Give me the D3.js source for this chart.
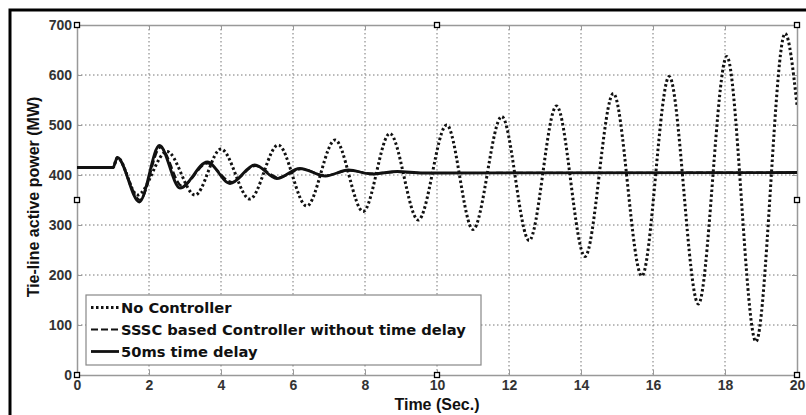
<!DOCTYPE html>
<html><head><meta charset="utf-8">
<script src="https://cdn.jsdelivr.net/npm/d3@7"></script>
<style>body{margin:0;background:#fff;} svg{display:block;}</style>
</head><body>
<svg id="c" width="806" height="415"></svg>
<script>
// ---- data ----
const xTicks = [0,2,4,6,8,10,12,14,16,18,20];
const yTicks = [0,100,200,300,400,500,600,700];
const seriesNames = ["No Controller","SSSC based Controller without time delay","50ms time delay"];

const noCtrlT = [0,1.0,1.12,1.68,2.5,3.28,4.0,4.8,5.59,6.38,7.17,7.95,8.69,9.48,10.27,11.0,11.8,12.56,13.32,14.11,14.9,15.69,16.45,17.26,18.05,18.86,19.67,20];
const noCtrlV = [415,415,435,360,447,360,452,352,460,338,470,327,483,310,500,291,517,269,538,237,563,198,597,142,637,67,683,540];

const ssscT = [0,1.0,1.12,1.75,2.32,2.92,3.62,4.3,4.95,5.6,6.25,6.9,7.55,8.2,8.9,9.6,20];
const ssscV = [415,415,433,350,455,378,423,386,418,395,412,399,409,403,406,404,405];

const delayT = [0,1.0,1.12,1.73,2.29,2.86,3.62,4.25,4.94,5.55,6.19,6.9,7.54,8.18,8.9,9.6,20];
const delayV = [415,415,435,346,459,374,426,383,420,393,413,398,410,402,407,404,405];

// ---- layout ----
const svg = d3.select("#c");
const L=77, R=797, T=25, B=375;
const x = d3.scaleLinear().domain([0,20]).range([L,R]);
const y = d3.scaleLinear().domain([0,700]).range([B,T]);
const AR = "Liberation Sans, Arial, sans-serif";
const DV = "DejaVu Sans, sans-serif";

// outer frame
svg.append("rect").attr("x",10).attr("y",10).attr("width",820).attr("height",430)
  .attr("fill","none").attr("stroke","#000").attr("stroke-width",3);

// grid
const g = svg.append("g");
g.selectAll(".gx").data(xTicks.slice(1,-1)).join("line")
  .attr("x1",d=>x(d)).attr("x2",d=>x(d)).attr("y1",T).attr("y2",B)
  .attr("stroke","#777").attr("stroke-width",1).attr("stroke-dasharray","1.5,2.5");
g.selectAll(".gy").data(yTicks.slice(1,-1)).join("line")
  .attr("y1",d=>y(d)).attr("y2",d=>y(d)).attr("x1",L).attr("x2",R)
  .attr("stroke","#777").attr("stroke-width",1).attr("stroke-dasharray","1.5,2.5");

// axes (MATLAB style box with inner ticks)
const tickFmt = d3.format("d");
const ax = svg.append("g").attr("transform",`translate(0,${B})`)
  .call(d3.axisBottom(x).tickValues(xTicks).tickFormat(tickFmt).tickSizeInner(-5).tickSizeOuter(0).tickPadding(5));
const ay = svg.append("g").attr("transform",`translate(${L},0)`)
  .call(d3.axisLeft(y).tickValues(yTicks).tickFormat(tickFmt).tickSizeInner(-5).tickSizeOuter(0).tickPadding(5));
const axT = svg.append("g").attr("transform",`translate(0,${T})`)
  .call(d3.axisTop(x).tickValues(xTicks).tickFormat("").tickSizeInner(-5).tickSizeOuter(0));
const ayR = svg.append("g").attr("transform",`translate(${R},0)`)
  .call(d3.axisRight(y).tickValues(yTicks).tickFormat("").tickSizeInner(-5).tickSizeOuter(0));
[ax,ay,axT,ayR].forEach(a=>{
  a.select(".domain").attr("stroke","#999").attr("stroke-width",1.5);
  a.selectAll(".tick line").attr("stroke","#999");
  a.selectAll("text").attr("font-family",AR)
    .attr("font-weight","bold").attr("font-size",14).attr("fill","#333");
});

// curves
const line = d3.line().x(d=>x(d[0])).y(d=>y(d[1])).curve(d3.curveMonotoneX);
svg.append("clipPath").attr("id","pc").append("rect")
  .attr("x",L).attr("y",T).attr("width",R-L).attr("height",B-T);
const pg = svg.append("g").attr("clip-path","url(#pc)");
const nc = noCtrlT.map((t,i)=>[t,noCtrlV[i]]);
const ss = ssscT.map((t,i)=>[t,ssscV[i]]);
const dl = delayT.map((t,i)=>[t,delayV[i]]);
pg.append("path").attr("d",line(nc)).attr("fill","none").attr("stroke","#111")
  .attr("stroke-width",3).attr("stroke-dasharray","2.5,2.5");
pg.append("path").attr("d",line(ss)).attr("fill","none").attr("stroke","#111")
  .attr("stroke-width",2.2).attr("stroke-dasharray","7,3");
pg.append("path").attr("d",line(dl)).attr("fill","none").attr("stroke","#111")
  .attr("stroke-width",2.8);

// selection handles
const handles = [[0,0],[10,0],[20,0],[0,350],[20,350],[0,700],[10,700],[20,700]];
svg.selectAll(".h").data(handles).join("rect")
  .attr("x",d=>x(d[0])-2.5).attr("y",d=>y(d[1])-2.5).attr("width",5).attr("height",5)
  .attr("fill","#fff").attr("stroke","#000").attr("stroke-width",1.3);

// legend
const lg = svg.append("g");
lg.append("rect").attr("x",86).attr("y",295).attr("width",395).attr("height",70)
  .attr("fill","#fff").attr("stroke","#888").attr("stroke-width",1.2);
const styles = [
  {dash:"2.5,2.5",w:3},
  {dash:"7,3",w:2.2},
  {dash:null,w:2.8}
];
seriesNames.forEach((n,i)=>{
  const yy = 307.5 + i*22;
  lg.append("line").attr("x1",91).attr("x2",119).attr("y1",yy).attr("y2",yy)
    .attr("stroke","#111").attr("stroke-width",styles[i].w)
    .attr("stroke-dasharray",styles[i].dash);
  lg.append("text").attr("x",121).attr("y",yy).attr("dy","0.36em")
    .attr("font-family",DV).attr("font-weight","bold")
    .attr("font-size",14.7).attr("fill","#111").text(n);
});

// axis labels
svg.append("text").attr("x",x(10)).attr("y",410).attr("text-anchor","middle")
  .attr("font-family",AR).attr("font-weight","bold")
  .attr("font-size",16).attr("fill","#111").text("Time (Sec.)");
svg.append("text").attr("transform",`translate(39,${(T+B)/2 - 3}) rotate(-90)`).attr("text-anchor","middle")
  .attr("font-family",AR).attr("font-weight","bold")
  .attr("font-size",16).attr("fill","#111").text("Tie-line active power (MW)");
</script>
</body></html>
